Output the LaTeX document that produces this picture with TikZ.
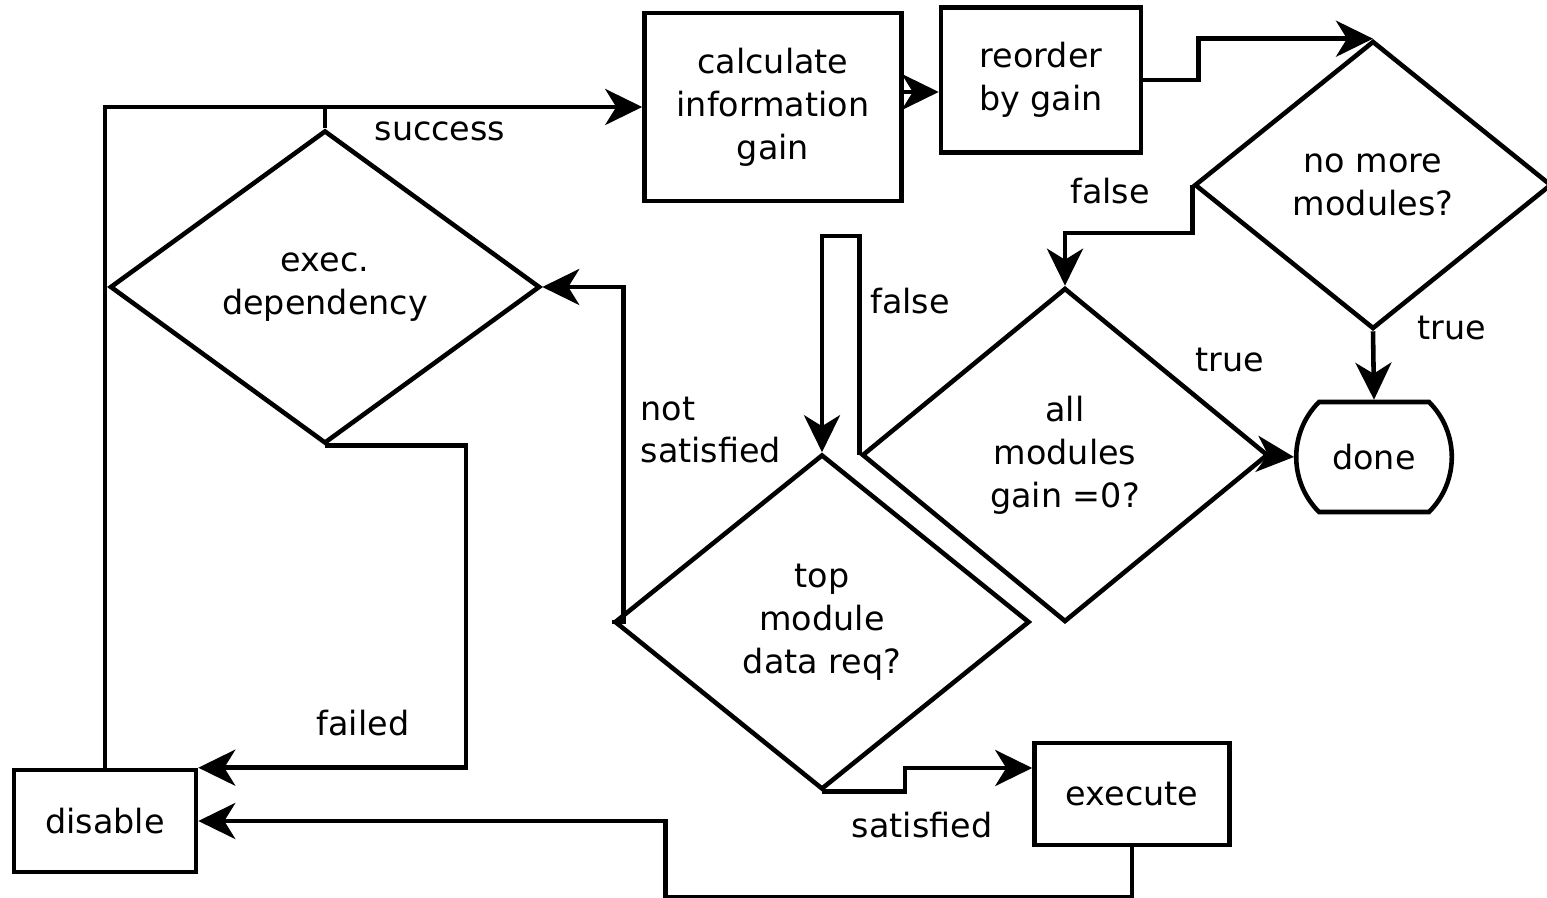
\documentclass[tikz,border=0pt]{standalone}
\usepackage{fontspec}
\setmainfont{DejaVu Sans}
\usetikzlibrary{shapes.geometric,shapes.misc,arrows.meta}
\tikzset{
  flow/.style={
    line width=1.3pt,
    line cap=butt,
    line join=miter
  },
  flow-box/.style={
    flow,
    draw=black,
    rectangle,
    align=center,
    inner sep=0pt
  },
  flow-decision/.style={
    flow,
    draw=black,
    diamond,
    align=center,
    inner sep=0pt
  },
  flow-term/.style={
    flow,
    draw=black,
    rounded rectangle,
    rounded rectangle arc length=90,
    inner sep=0pt
  },
  flow-label/.style={inner sep=0pt},
  flow-arrow/.style={flow, -{Stealth[length=0.37cm,width=0.36cm,inset=0.11cm]}}
}

\begin{document}
\begin{tikzpicture}[font=\fontsize{9.5pt}{12.2pt}\selectfont]
  \useasboundingbox (0,0) rectangle (15.47,8.98);

  % steps and decisions
  \node[flow-box, minimum width=2.57cm, minimum height=1.88cm] (calc) at (7.73,7.91) {calculate\\information\\gain};
  \node[flow-box, minimum width=2.00cm, minimum height=1.45cm] (reorder) at (10.41,8.18) {reorder\\by gain};
  \node[flow-decision, minimum width=3.57cm, minimum height=2.88cm] (nomore) at (13.73,7.13) {no more\\modules?};
  \node[flow-decision, minimum width=4.06cm, minimum height=3.34cm] (allmod) at (10.65,4.43) {all\\modules\\gain =0?};
  \node[flow-term, minimum width=1.52cm, minimum height=1.10cm] (done) at (13.74,4.41) {done};
  \node[flow-decision, minimum width=4.30cm, minimum height=3.13cm] (exec) at (3.25,6.11) {exec.\\dependency};
  \node[flow-decision, minimum width=4.15cm, minimum height=3.35cm] (topmod) at (8.22,2.76) {top\\module\\data req?};
  \node[flow-box, minimum width=1.82cm, minimum height=1.02cm] (disable) at (1.05,0.77) {disable};
  \node[flow-box, minimum width=1.95cm, minimum height=1.02cm] (execute) at (11.32,1.04) {execute};

  % connectors
  \draw[flow-arrow] (disable.north) |- (calc.west);
  \draw[flow] (exec.north) -- (exec.north |- calc.west);
  \draw[flow-arrow] ([yshift=0.15cm]calc.east) -- ([yshift=0.15cm]calc.east -| reorder.west);
  \draw[flow-arrow] (reorder.east) -- ++(0.55,0) |- (nomore.north);
  \draw[flow-arrow] (nomore.west) -- ++(0,-0.48) -| (allmod.north);
  \draw[flow-arrow] (nomore.south) -- (done.north);
  \draw[flow-arrow] (allmod.east) -- (done.west);
  \draw[flow-arrow] (allmod.west) -- ++(0,2.19) -| (topmod.north);
  \draw[flow-arrow] (topmod.west) -- ++(0.11,0) |- (exec.east);
  \draw[flow-arrow] (exec.south) -- ++(1.41,0) |- (disable.north east);
  \draw[flow-arrow] (topmod.south) -- ++(0.83,0) |- ([yshift=0.26cm]execute.west);
  \draw[flow-arrow] (execute.south) -- ++(0,-0.5) -| ([xshift=4.67cm]disable.east) -- (disable.east);

  % labels
  \node[flow-label] (l-success) at (4.40,7.67) {success};
  \node[flow-label] (l-false1) at (11.10,7.07) {false};
  \node[flow-label] (l-true1) at (14.52,5.70) {true};
  \node[flow-label] (l-true2) at (12.30,5.38) {true};
  \node[flow-label] (l-false2) at (9.10,5.97) {false};
  \node[flow-label, anchor=west, align=left] (l-notsat) at (6.40,4.68) {not\\satisfied};
  \node[flow-label] (l-failed) at (3.63,1.75) {failed};
  \node[flow-label] (l-sat) at (9.22,0.73) {satisfied};
\end{tikzpicture}
\end{document}
